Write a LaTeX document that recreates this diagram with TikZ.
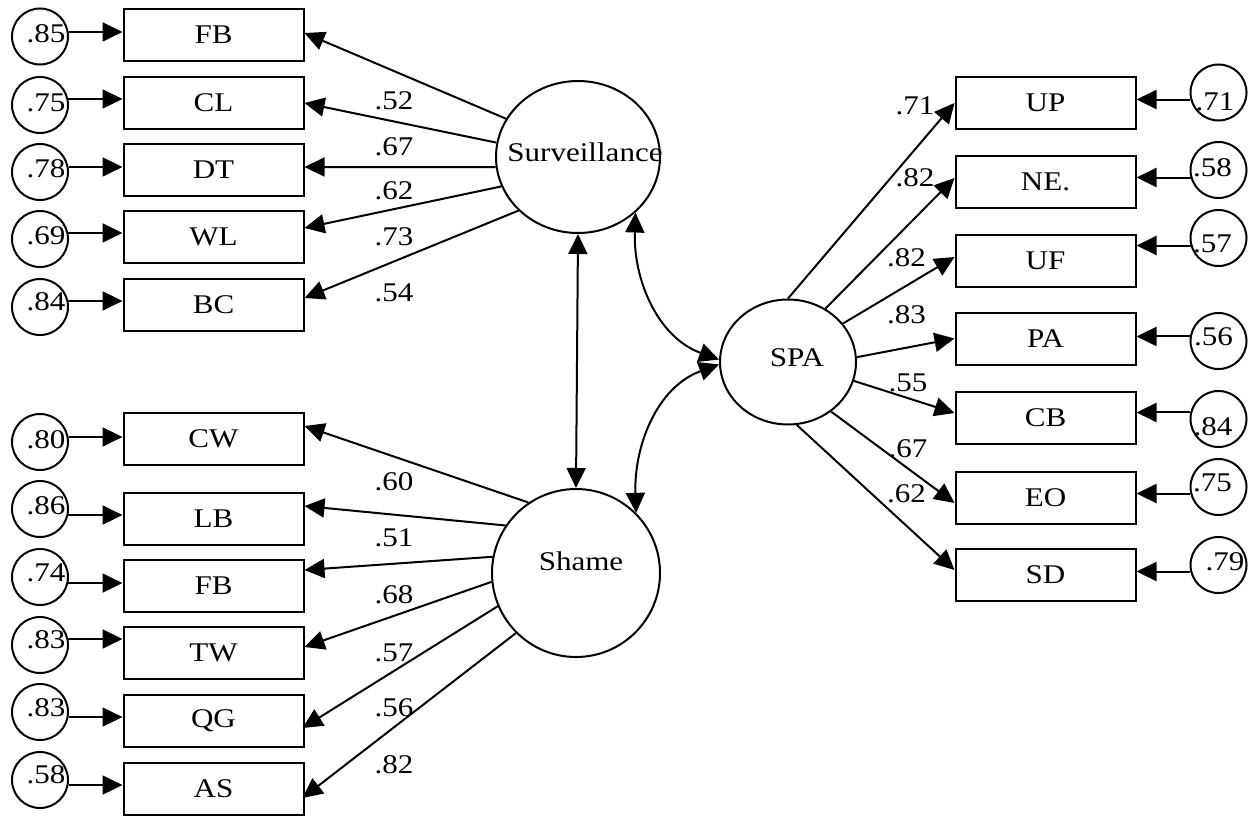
\documentclass[tikz,border=0pt]{standalone}
\usepackage{fontspec}
\setmainfont{Liberation Serif}[FakeStretch=1.15]
\usetikzlibrary{arrows.meta, shapes.geometric}
\tikzset{
    obs/.style={rectangle, draw=black, line width=2pt, minimum width=180pt, minimum height=52pt, inner sep=0pt},
    err/.style={circle, draw=black, line width=2pt, minimum size=56pt, inner sep=0pt},
    latent/.style={ellipse, draw=black, line width=2pt, inner sep=0pt},
    arrow/.style={-{Triangle[length=20pt, width=19pt]}, line width=2pt},
    cov/.style={{Triangle[length=20pt, width=19pt]}-{Triangle[length=20pt, width=19pt]}, line width=2pt},
    coef/.style={inner sep=0pt}
}

\begin{document}
\begin{tikzpicture}[x=1pt, y=-1pt, font=\fontsize{27}{32}\selectfont]
    \useasboundingbox (0,0) rectangle (1255,816);

    % Latent factors
    \node[latent, minimum width=164pt, minimum height=152pt, label={[xshift=7pt, yshift=5pt]center:Surveillance}] (Surv) at (578,157) {};
    \node[latent, minimum width=168pt, minimum height=168pt, label={[xshift=5pt, yshift=12pt]center:Shame}] (Shame) at (576,573) {};
    \node[latent, minimum width=136pt, minimum height=125pt, label={[xshift=9pt, yshift=4pt]center:SPA}] (SPA) at (788,362) {};

    % Surveillance items
    \node[obs] (FB) at (213.5,35) {FB};
    \node[obs] (CL) at (213.5,103) {CL};
    \node[obs] (DT) at (213.5,170) {DT};
    \node[obs] (WL) at (213.5,237) {WL};
    \node[obs] (BC) at (213.5,305) {BC};

    % Shame items
    \node[obs] (CW) at (213.5,439) {CW};
    \node[obs] (LB) at (213.5,519) {LB};
    \node[obs] (FBs) at (213.5,586) {FB};
    \node[obs] (TW) at (213.5,653) {TW};
    \node[obs] (QG) at (213.5,721) {QG};
    \node[obs] (AS) at (213.5,789) {AS};

    % SPA items
    \node[obs] (UP) at (1045.5,103) {UP};
    \node[obs] (NE) at (1045.5,181.5) {NE.};
    \node[obs] (UF) at (1045.5,260.5) {UF};
    \node[obs] (PA) at (1045.5,338.5) {PA};
    \node[obs] (CB) at (1045.5,417.5) {CB};
    \node[obs] (EO) at (1045.5,497.5) {EO};
    \node[obs] (SD) at (1045.5,575) {SD};

    % Error terms, left
    \node[err, label={[xshift=6pt, yshift=2.5pt]center:.85}] (eFB) at (40,36.5) {};
    \node[err, label={[xshift=6pt, yshift=2pt]center:.75}] (eCL) at (40,105) {};
    \node[err, label={[xshift=6pt, yshift=3.5pt]center:.78}] (eDT) at (40,172) {};
    \node[err, label={[xshift=6pt, yshift=3.5pt]center:.69}] (eWL) at (40,239) {};
    \node[err, label={[xshift=6pt, yshift=5pt]center:.84}] (eBC) at (40,307) {};
    \node[err, label={[xshift=6pt, yshift=2.5pt]center:.80}] (eCW) at (40,442) {};
    \node[err, label={[xshift=6pt, yshift=3pt]center:.86}] (eLB) at (40,509) {};
    \node[err, label={[xshift=6pt, yshift=4pt]center:.74}] (eFBs) at (40,577) {};
    \node[err, label={[xshift=6pt, yshift=5pt]center:.83}] (eTW) at (40,645) {};
    \node[err, label={[xshift=6pt, yshift=4pt]center:.83}] (eQG) at (40,712) {};
    \node[err, label={[xshift=6pt, yshift=5pt]center:.58}] (eAS) at (40,780) {};

    % Error terms, right
    \node[err, label={[xshift=-3.5pt, yshift=-9pt]center:.71}] (eUP) at (1218.5,92.5) {};
    \node[err, label={[xshift=-6pt, yshift=2pt]center:.58}] (eNE) at (1218.5,170) {};
    \node[err, label={[xshift=-6pt, yshift=-6pt]center:.57}] (eUF) at (1218.5,238) {};
    \node[err, label={[xshift=-5pt, yshift=4pt]center:.56}] (ePA) at (1218.5,341) {};
    \node[err, label={[xshift=-5.5pt, yshift=-8pt]center:.84}] (eCB) at (1218.5,419) {};
    \node[err, label={[xshift=-6pt, yshift=4pt]center:.75}] (eEO) at (1218.5,487) {};
    \node[err, label={[xshift=6.5pt, yshift=3.5pt]center:.79}] (eSD) at (1218.5,565) {};

    % Errors to items
    \draw[arrow] (eFB.9) -- (eFB.9 -| FB.west);
    \draw[arrow] (eCL.12) -- (eCL.12 -| CL.west);
    \draw[arrow] (eDT.10) -- (eDT.10 -| DT.west);
    \draw[arrow] (eWL.12) -- (eWL.12 -| WL.west);
    \draw[arrow] (eBC.12) -- (eBC.12 -| BC.west);
    \draw[arrow] (eCW.10) -- (eCW.10 -| CW.west);
    \draw[arrow] (eLB.348) -- (eLB.348 -| LB.west);
    \draw[arrow] (eFBs.348) -- (eFBs.348 -| FBs.west);
    \draw[arrow] (eTW.12) -- (eTW.12 -| TW.west);
    \draw[arrow] (eQG.350) -- (eQG.350 -| QG.west);
    \draw[arrow] (eAS.350) -- (eAS.350 -| AS.west);
    \draw[arrow] (eUP.194) -- (eUP.194 -| UP.east);
    \draw[arrow] (eNE.195) -- (eNE.195 -| NE.east);
    \draw[arrow] (eUF.195) -- (eUF.195 -| UF.east);
    \draw[arrow] (ePA.171) -- (ePA.171 -| PA.east);
    \draw[arrow] (eCB.167) -- (eCB.167 -| CB.east);
    \draw[arrow] (eEO.193) -- (eEO.193 -| EO.east);
    \draw[arrow] (eSD.193) -- (eSD.193 -| SD.east);

    % Loadings
    \draw[arrow] (Surv.152) -- ([yshift=2pt]FB.east);
    \draw[arrow] (Surv.170) -- (CL.east);
    \draw[arrow] (Surv.187) -- ([yshift=3pt]DT.east);
    \draw[arrow] (Surv.201) -- ([yshift=9pt]WL.east);
    \draw[arrow] (Surv.222) -- ([yshift=7pt]BC.east);

    \draw[arrow] (Shame.124) -- ([yshift=13pt]CW.east);
    \draw[arrow] (Shame.146) -- ([yshift=13pt]LB.east);
    \draw[arrow] (Shame.169) -- ([yshift=16pt]FBs.east);
    \draw[arrow] (Shame.186) -- ([yshift=6pt]TW.east);
    \draw[arrow] (Shame.203) -- ([xshift=-2pt, yshift=-7pt]QG.east);
    \draw[arrow] (Shame.225) -- ([xshift=-2pt, yshift=-9pt]AS.east);

    \draw[arrow] (SPA.90) -- (UP.west);
    \draw[arrow] (SPA.55) -- ([yshift=3.5pt]NE.west);
    \draw[arrow] (SPA.35) -- ([yshift=3.5pt]UF.west);
    \draw[arrow] (SPA.4) -- (PA.west);
    \draw[arrow] (SPA.344) -- ([yshift=4.5pt]CB.west);
    \draw[arrow] (SPA.311) -- ([yshift=-5.5pt]EO.west);
    \draw[arrow] (SPA.278) -- ([yshift=5pt]SD.west);

    % Correlations
    \draw[cov] (Surv.south) -- (Shame.north);
    \draw[cov] (Surv.316) to[out=268, in=160] (SPA.178);
    \draw[cov] (SPA.182) to[out=200, in=92] (Shame.45);

    % Coefficients
    \node[coef] at (394,101) {.52};
    \node[coef] at (394,147) {.67};
    \node[coef] at (394,191) {.62};
    \node[coef] at (394,237) {.73};
    \node[coef] at (394,293) {.54};

    \node[coef] at (394,482) {.60};
    \node[coef] at (394,538) {.51};
    \node[coef] at (394,595) {.68};
    \node[coef] at (394,653) {.57};
    \node[coef] at (394,708) {.56};
    \node[coef] at (394,765) {.82};

    \node[coef] at (915,106) {.71};
    \node[coef] at (915,177.5) {.82};
    \node[coef] at (906.5,258) {.82};
    \node[coef] at (906.5,315) {.83};
    \node[coef] at (908,383) {.55};
    \node[coef] at (908,449) {.67};
    \node[coef] at (906.5,494) {.62};
\end{tikzpicture}
\end{document}
